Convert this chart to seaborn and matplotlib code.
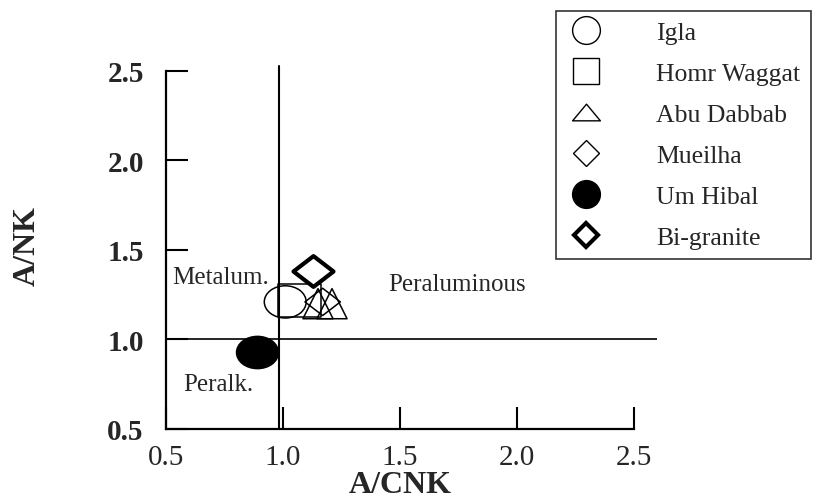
import pandas as pd
import seaborn as sns
import matplotlib.pyplot as plt
from matplotlib.lines import Line2D
from matplotlib.path import Path
from matplotlib.transforms import Affine2D

# values
groups = ["Igla", "Homr Waggat", "Abu Dabbab", "Abu Dabbab", "Mueilha", "Um Hibal", "Bi-granite"]
acnk = [1.01, 1.07, 1.15, 1.21, 1.17, 0.89, 1.13]
ank = [1.21, 1.22, 1.20, 1.20, 1.21, 0.93, 1.38]

legend_names = ["Igla", "Homr Waggat", "Abu Dabbab", "Mueilha", "Um Hibal", "Bi-granite"]
x_ticks = [0.5, 1.0, 1.5, 2.0, 2.5]
y_ticks = [0.5, 1.0, 1.5, 2.0, 2.5]
acnk_boundary = 0.985
ank_boundary = 1.0

# the printed symbols are a bit wider than tall
ellipse = Path.unit_circle().transformed(Affine2D().scale(1.3, 1.0))
rect = Path([(-1.3, -1), (1.3, -1), (1.3, 1), (-1.3, 1), (-1.3, -1)],
            [Path.MOVETO, Path.LINETO, Path.LINETO, Path.LINETO, Path.CLOSEPOLY])
flat_diamond = Path([(-1.3, 0), (0, 1), (1.3, 0), (0, -1), (-1.3, 0)],
                    [Path.MOVETO, Path.LINETO, Path.LINETO, Path.LINETO, Path.CLOSEPOLY])
flat_triangle = Path([(-1, -0.6), (0, 0.6), (1, -0.6), (-1, -0.6)],
                     [Path.MOVETO, Path.LINETO, Path.LINETO, Path.CLOSEPOLY])

styles = {
    "Igla": dict(marker=ellipse, s=910, facecolor="none", lw=1.1),
    "Homr Waggat": dict(marker=rect, s=960, facecolor="none", lw=1.1),
    "Abu Dabbab": dict(marker="^", s=470, facecolor="none", lw=1.1),
    "Mueilha": dict(marker=flat_diamond, s=650, facecolor="none", lw=1.1),
    "Um Hibal": dict(marker=ellipse, s=910, facecolor="black", lw=1.1),
    "Bi-granite": dict(marker=flat_diamond, s=830, facecolor="white", lw=3.0),
}
legend_styles = {
    "Igla": dict(marker="o", ms=20, fc="white", mew=1.0),
    "Homr Waggat": dict(marker="s", ms=19, fc="white", mew=1.0),
    "Abu Dabbab": dict(marker=flat_triangle, ms=20, fc="white", mew=1.0),
    "Mueilha": dict(marker="D", ms=13.5, fc="white", mew=1.0),
    "Um Hibal": dict(marker="o", ms=20, fc="black", mew=1.0),
    "Bi-granite": dict(marker="D", ms=12, fc="white", mew=3.0),
}

df = pd.DataFrame({"group": groups, "A/CNK": acnk, "A/NK": ank})

sns.set_style("ticks")
plt.rcParams["font.family"] = ["Liberation Serif", "DejaVu Serif"]

fig = plt.figure(figsize=(8.17, 5.02), dpi=100)
ax = fig.add_axes([166 / 817, 1 - 430 / 502, 491 / 817, 367 / 502])

ax.plot([0.5, 2.6], [ank_boundary, ank_boundary], color="black", lw=1.2, zorder=1)
ax.plot([acnk_boundary, acnk_boundary], [0.5, 2.53], color="black", lw=1.5, zorder=1)

for g in legend_names:
    st = styles[g]
    sub = df[df["group"] == g]
    sns.scatterplot(data=sub, x="A/CNK", y="A/NK", ax=ax, marker=st["marker"], s=st["s"],
                    facecolor=st["facecolor"], edgecolor="black", linewidth=st["lw"],
                    zorder=3, legend=False)

ax.set_xlim(0.5, 2.6)
ax.set_ylim(0.5, 2.55)
ax.set_xticks(x_ticks)
ax.set_yticks(y_ticks)
ax.set_xticklabels([f"{v:.1f}" for v in x_ticks], fontsize=21)
ax.set_yticklabels([f"{v:.1f}" for v in y_ticks], fontsize=21, fontweight="bold")
ax.tick_params(direction="in", length=16, width=1.5, color="black")
ax.tick_params(axis="x", pad=11)
ax.tick_params(axis="y", pad=16)

sns.despine(ax=ax)
for side in ["left", "bottom"]:
    ax.spines[side].set_bounds(0.5, 2.5)
    ax.spines[side].set_linewidth(1.6)
    ax.spines[side].set_color("black")

ax.set_xlabel("A/CNK", fontsize=23, fontweight="bold", va="center")
ax.set_ylabel("A/NK", fontsize=23, fontweight="bold", va="center")
ax.xaxis.set_label_coords(0.477, -0.152)
ax.yaxis.set_label_coords(-0.282, 0.50)

ax.text(0.735, 1.35, "Metalum.", fontsize=18, ha="center", va="center")
ax.text(1.744, 1.31, "Peraluminous", fontsize=18, ha="center", va="center")
ax.text(0.722, 0.75, "Peralk.", fontsize=18, ha="center", va="center")

handles = []
for g in legend_names:
    ls = legend_styles[g]
    handles.append(Line2D([], [], linestyle="none", marker=ls["marker"], markersize=ls["ms"],
                          markerfacecolor=ls["fc"], markeredgecolor="black",
                          markeredgewidth=ls["mew"]))
leg = fig.legend(handles, legend_names, loc="upper left", bbox_to_anchor=(556 / 817, 1 - 12 / 502),
                 frameon=True, fancybox=False, edgecolor="black", fontsize=18.5,
                 labelspacing=0.7, handletextpad=1.95, handlelength=1.55, borderpad=0.4,
                 borderaxespad=0)
leg.get_frame().set_linewidth(1.2)

fig.savefig("out.png", dpi=100)
